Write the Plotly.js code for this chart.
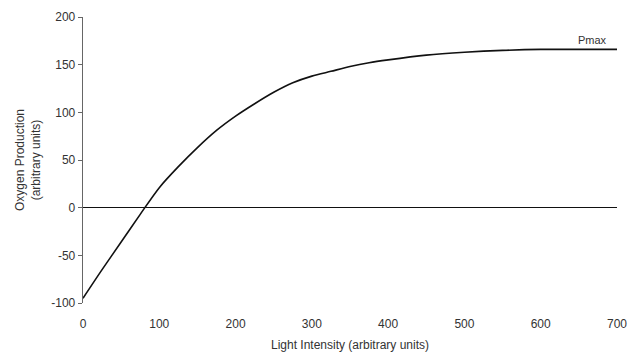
<!DOCTYPE html>
<html>
<head>
<meta charset="utf-8">
<script src="https://cdn.plot.ly/plotly-3.0.1.min.js"></script>
<style>
  html, body { margin: 0; padding: 0; background: #fff; }
  #chart { width: 628px; height: 354px; }
</style>
</head>
<body>
<div id="chart"></div>
<script>
// Light intensity (arbitrary units)
const lightIntensity = [0, 25, 50, 75, 100, 125, 150, 175, 200, 225, 250, 275, 300, 325, 350, 375, 400, 450, 500, 550, 600, 650, 700];
// Oxygen production (arbitrary units)
const oxygenProduction = [-95, -65, -36, -7, 21, 43, 63, 81, 96, 109, 121, 131, 138, 143, 148, 152, 155, 160, 163, 165, 166, 166, 166];
const xTicks = [0, 100, 200, 300, 400, 500, 600, 700];
const yTicks = [-100, -50, 0, 50, 100, 150, 200];
const pmaxLabel = 'Pmax';

const font = 'Liberation Sans, Arial, sans-serif';

const data = [{
  x: lightIntensity,
  y: oxygenProduction,
  type: 'scatter',
  mode: 'lines',
  line: { color: '#111', width: 1.6, shape: 'spline', smoothing: 0.8 },
  hoverinfo: 'skip'
}];

const layout = {
  width: 628,
  height: 354,
  margin: { l: 83, r: 11, t: 17, b: 51 },
  paper_bgcolor: '#fff',
  plot_bgcolor: '#fff',
  showlegend: false,
  font: { family: font, size: 12, color: '#333' },
  xaxis: {
    range: [0, 700],
    tickvals: xTicks,
    ticktext: xTicks.map(String),
    showgrid: false,
    zeroline: false,
    showline: false,
    ticks: 'outside',
    ticklen: 10,
    tickcolor: 'rgba(0,0,0,0)',
    tickfont: { family: font, size: 12, color: '#333' },
    title: { text: 'Light Intensity (arbitrary units)', font: { family: font, size: 12, color: '#333' }, standoff: 10 }
  },
  yaxis: {
    range: [-100, 200],
    tickvals: yTicks,
    ticktext: yTicks.map(String),
    showgrid: false,
    zeroline: true,
    zerolinecolor: '#111',
    zerolinewidth: 1.3,
    showline: true,
    linecolor: '#666',
    linewidth: 1.3,
    ticks: 'outside',
    ticklen: 4,
    tickcolor: '#666',
    tickfont: { family: font, size: 12, color: '#333' },
    title: { text: 'Oxygen Production<br>(arbitrary units)', font: { family: font, size: 12, color: '#333' }, standoff: 8 }
  },
  annotations: [{
    x: 668, y: 176, xref: 'x', yref: 'y',
    text: pmaxLabel, showarrow: false,
    font: { family: font, size: 11, color: '#333' }
  }]
};

Plotly.newPlot('chart', data, layout, { displayModeBar: false, staticPlot: true });
</script>
</body>
</html>
